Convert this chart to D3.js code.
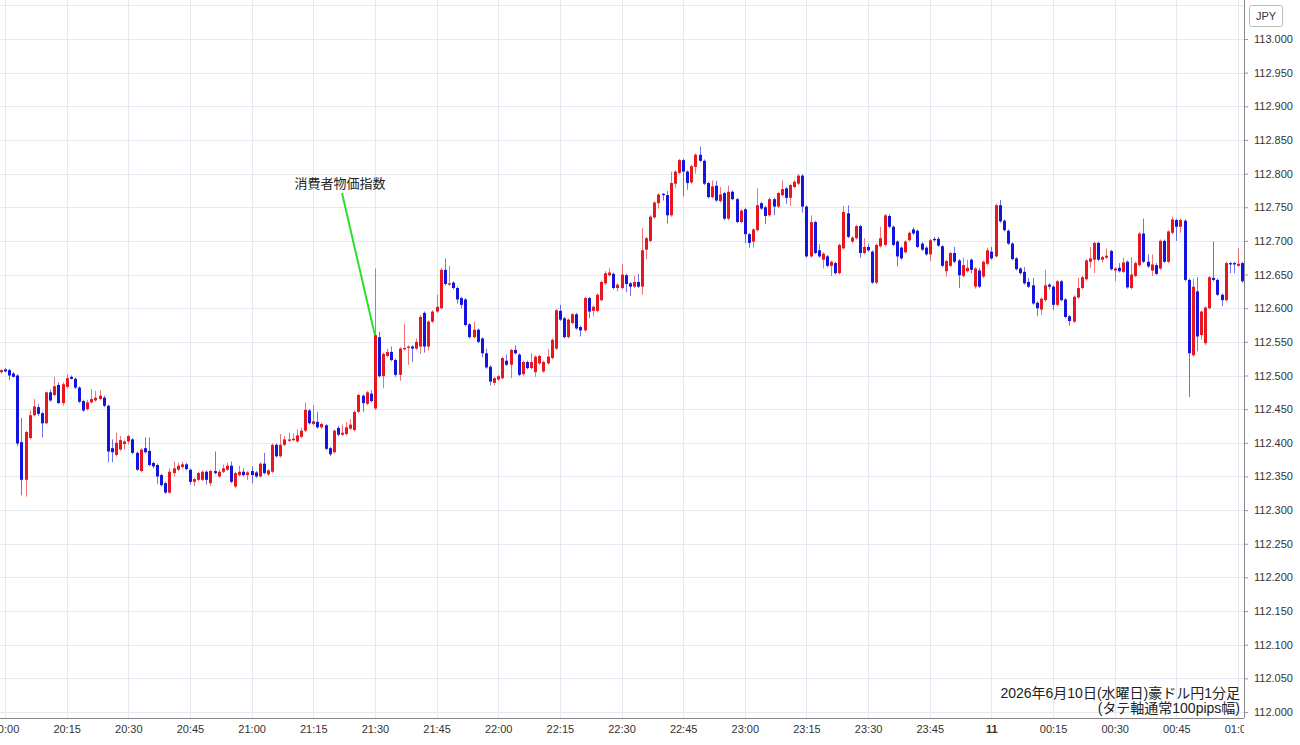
<!DOCTYPE html>
<html>
<head>
<meta charset="utf-8">
<script src="https://d3js.org/d3.v7.min.js"></script>
<style>
  html, body { margin: 0; padding: 0; background: #fff; }
  body { width: 1300px; height: 745px; overflow: hidden; font-family: "Liberation Sans", "Noto Sans CJK JP", sans-serif; }
  .grid line { stroke: #e3eaf2; stroke-width: 1; }
  .tick text { fill: #333; }
</style>
</head>
<body>
<div id="chart"></div>
<script>
// 1-minute AUD/JPY candles, first candle = 19:59 (minute -1 from 20:00)
var firstMinute = -1;

var opens = [
  112.505,112.509,112.508,112.503,112.500,112.401,112.345,112.407,112.441,112.453,112.444,112.429,112.475,112.471,112.486,112.459,112.483,112.498,112.495,112.482,
  112.462,112.450,112.460,112.463,112.465,112.467,112.455,112.392,112.382,112.390,112.398,112.402,112.405,112.385,112.358,112.392,112.388,112.370,112.367,112.352,
  112.340,112.326,112.355,112.360,112.364,112.368,112.360,112.342,112.345,112.345,112.357,112.340,112.358,112.350,112.357,112.360,112.366,112.335,112.352,112.357,
  112.352,112.358,112.356,112.350,112.369,112.353,112.357,112.397,112.380,112.397,112.403,112.404,112.402,112.409,112.418,112.448,112.428,112.431,112.423,112.426,
  112.392,112.386,112.422,112.412,112.413,112.421,112.419,112.446,112.470,112.458,112.473,112.451,112.557,112.499,112.529,112.535,112.523,112.501,112.539,112.541,
  112.543,112.540,112.543,112.593,112.543,112.580,112.595,112.600,112.657,112.635,112.638,112.630,112.615,112.613,112.576,112.557,112.568,112.555,112.533,112.513,
  112.489,112.494,112.496,112.522,112.516,112.538,112.531,112.502,112.520,112.511,112.505,112.518,112.506,112.518,112.526,112.540,112.596,112.585,112.557,112.578,
  112.591,112.572,112.567,112.615,112.596,112.596,112.612,112.637,112.649,112.651,112.630,112.630,112.649,112.637,112.632,112.639,112.632,112.687,112.700,112.735,
  112.756,112.770,112.768,112.738,112.785,112.801,112.820,112.803,112.787,112.810,112.828,112.819,112.786,112.765,112.782,112.759,112.771,112.733,112.773,112.762,
  112.728,112.747,112.710,112.699,112.716,112.756,112.750,112.738,112.762,112.751,112.768,112.778,112.764,112.780,112.785,112.797,112.751,112.677,112.728,112.686,
  112.672,112.677,112.663,112.667,112.652,112.689,112.741,112.699,112.704,112.722,112.682,112.691,112.684,112.638,112.692,112.694,112.737,112.721,112.699,112.690,
  112.683,112.701,112.717,112.715,112.696,112.690,112.680,112.703,112.703,112.692,112.655,112.663,112.682,112.671,112.648,112.655,112.672,112.632,112.656,112.647,
  112.666,112.684,112.677,112.753,112.730,112.715,112.696,112.674,112.659,112.654,112.639,112.634,112.608,112.598,112.612,112.635,112.632,112.605,112.640,112.613,
  112.588,112.580,112.616,112.630,112.643,112.669,112.672,112.697,112.672,112.675,112.685,112.656,112.660,112.654,112.669,112.630,112.648,112.664,112.711,112.669,
  112.656,112.664,112.659,112.700,112.669,112.712,112.731,112.721,112.730,112.642,112.530,112.625,112.560,112.548,112.600,112.645,112.642,112.620,112.612,112.667,
  112.667,112.663,112.667
];
var highs = [
  112.509,112.511,112.510,112.505,112.502,112.437,112.418,112.448,112.465,112.458,112.446,112.476,112.479,112.498,112.490,112.490,112.502,112.500,112.497,112.484,
  112.464,112.464,112.480,112.477,112.478,112.470,112.457,112.405,112.415,112.410,112.405,112.412,112.407,112.387,112.392,112.408,112.408,112.372,112.369,112.354,
  112.342,112.362,112.372,112.370,112.372,112.370,112.362,112.348,112.357,112.359,112.359,112.360,112.387,112.360,112.368,112.370,112.372,112.357,112.366,112.362,
  112.358,112.365,112.358,112.371,112.385,112.361,112.399,112.399,112.413,112.410,112.415,112.414,112.420,112.422,112.460,112.450,112.456,112.446,112.430,112.428,
  112.394,112.420,112.425,112.427,112.431,112.435,112.448,112.473,112.472,112.477,112.478,112.659,112.565,112.534,112.540,112.543,112.525,112.542,112.577,112.545,
  112.545,112.555,112.590,112.595,112.582,112.597,112.620,112.660,112.674,112.663,112.640,112.632,112.617,112.615,112.578,112.580,112.570,112.557,112.540,112.515,
  112.498,112.501,112.528,112.531,112.540,112.545,112.533,112.522,112.522,112.533,112.530,112.531,112.522,112.539,112.555,112.599,112.605,112.587,112.585,112.593,
  112.593,112.574,112.617,112.617,112.604,112.622,112.641,112.655,112.660,112.653,112.637,112.666,112.651,112.639,112.648,112.651,112.719,112.706,112.738,112.759,
  112.771,112.771,112.774,112.803,112.805,112.822,112.822,112.805,112.813,112.830,112.840,112.821,112.788,112.790,112.789,112.780,112.773,112.782,112.775,112.764,
  112.747,112.749,112.712,112.719,112.778,112.758,112.752,112.764,112.764,112.773,112.790,112.780,112.785,112.790,112.799,112.799,112.753,112.738,112.730,112.695,
  112.683,112.679,112.671,112.669,112.696,112.752,112.753,112.707,112.724,112.724,112.704,112.696,112.686,112.696,112.721,112.740,112.740,112.723,112.701,112.692,
  112.701,112.714,112.720,112.717,112.698,112.692,112.703,112.706,112.706,112.694,112.672,112.684,112.691,112.673,112.675,112.672,112.674,112.661,112.660,112.671,
  112.690,112.691,112.755,112.761,112.732,112.717,112.698,112.676,112.661,112.661,112.645,112.645,112.610,112.616,112.657,112.637,112.634,112.642,112.642,112.615,
  112.590,112.619,112.645,112.648,112.673,112.691,112.699,112.699,112.678,112.689,112.687,112.661,112.667,112.675,112.671,112.676,112.669,112.713,112.733,112.680,
  112.680,112.667,112.702,112.702,112.716,112.736,112.733,112.733,112.732,112.644,112.644,112.646,112.597,112.603,112.648,112.699,112.644,112.622,112.669,112.669,
  112.669,112.689,112.669
];
var lows = [
  112.503,112.505,112.493,112.497,112.395,112.322,112.320,112.405,112.439,112.440,112.408,112.428,112.461,112.469,112.458,112.455,112.481,112.494,112.480,112.459,
  112.446,112.448,112.458,112.461,112.463,112.453,112.371,112.371,112.380,112.388,112.390,112.398,112.383,112.358,112.356,112.384,112.365,112.362,112.339,112.335,
  112.324,112.324,112.350,112.358,112.362,112.359,112.338,112.336,112.343,112.343,112.338,112.336,112.353,112.348,112.355,112.358,112.340,112.333,112.350,112.350,
  112.345,112.340,112.348,112.348,112.353,112.351,112.355,112.378,112.378,112.395,112.401,112.402,112.400,112.407,112.416,112.427,112.426,112.421,112.421,112.389,
  112.380,112.384,112.410,112.410,112.411,112.419,112.417,112.444,112.446,112.456,112.460,112.449,112.497,112.481,112.527,112.521,112.498,112.492,112.537,112.516,
  112.520,112.538,112.532,112.534,112.537,112.578,112.593,112.598,112.634,112.633,112.628,112.607,112.600,112.573,112.555,112.555,112.548,112.527,112.510,112.485,
  112.486,112.492,112.494,112.514,112.496,112.531,112.499,112.500,112.509,112.509,112.498,112.516,112.504,112.516,112.524,112.538,112.581,112.555,112.555,112.576,
  112.568,112.558,112.565,112.585,112.588,112.594,112.610,112.635,112.647,112.628,112.625,112.628,112.624,112.618,112.630,112.630,112.620,112.673,112.698,112.733,
  112.748,112.760,112.726,112.736,112.779,112.799,112.766,112.776,112.785,112.800,112.817,112.783,112.763,112.763,112.758,112.757,112.731,112.731,112.760,112.726,
  112.726,112.697,112.690,112.690,112.714,112.746,112.725,112.736,112.738,112.749,112.766,112.755,112.752,112.778,112.783,112.742,112.675,112.675,112.680,112.675,
  112.659,112.661,112.648,112.650,112.650,112.687,112.704,112.696,112.702,112.675,112.680,112.684,112.636,112.636,112.690,112.692,112.719,112.692,112.662,112.672,
  112.681,112.699,112.709,112.689,112.685,112.678,112.670,112.699,112.691,112.661,112.647,112.661,112.667,112.630,112.646,112.653,112.652,112.629,112.630,112.645,
  112.664,112.672,112.675,112.727,112.714,112.694,112.671,112.656,112.650,112.635,112.630,112.605,112.588,112.590,112.610,112.628,112.597,112.603,112.610,112.585,
  112.574,112.578,112.614,112.628,112.641,112.660,112.652,112.670,112.668,112.673,112.656,112.640,112.653,112.652,112.629,112.628,112.646,112.662,112.667,112.660,
  112.648,112.649,112.657,112.667,112.667,112.710,112.700,112.712,112.640,112.468,112.528,112.536,112.553,112.545,112.598,112.640,112.618,112.603,112.610,112.652,
  112.652,112.661,112.638
];
var closes = [
  112.508,112.506,112.500,112.498,112.399,112.345,112.416,112.441,112.454,112.443,112.429,112.475,112.463,112.484,112.459,112.487,112.496,112.495,112.482,112.461,
  112.448,112.460,112.465,112.467,112.470,112.455,112.387,112.386,112.400,112.404,112.402,112.410,112.385,112.360,112.390,112.386,112.367,112.365,112.350,112.337,
  112.326,112.357,112.362,112.366,112.368,112.361,112.342,112.346,112.355,112.357,112.345,112.358,112.355,112.357,112.362,112.366,112.342,112.355,112.357,112.352,
  112.356,112.352,112.350,112.369,112.355,112.359,112.397,112.380,112.397,112.405,112.405,112.406,112.411,112.418,112.449,112.429,112.432,112.423,112.428,112.391,
  112.383,112.418,112.412,112.415,112.423,112.427,112.446,112.471,112.459,112.475,112.462,112.560,112.499,112.532,112.535,112.523,112.501,112.540,112.541,112.543,
  112.540,112.550,112.587,112.543,112.580,112.595,112.602,112.657,112.636,112.637,112.630,112.613,112.605,112.575,112.557,112.568,112.550,112.533,112.512,112.491,
  112.496,112.499,112.526,112.516,112.538,112.533,112.501,112.520,112.511,112.520,112.528,112.529,112.520,112.528,112.553,112.597,112.583,112.557,112.583,112.591,
  112.570,112.567,112.615,112.595,112.602,112.620,112.639,112.652,112.653,112.630,112.635,112.650,112.636,112.632,112.639,112.632,112.686,112.704,112.736,112.757,
  112.769,112.768,112.738,112.786,112.803,112.820,112.803,112.786,112.811,112.828,112.819,112.785,112.765,112.781,112.760,112.769,112.733,112.773,112.762,112.728,
  112.745,112.710,112.697,112.717,112.753,112.748,112.737,112.762,112.751,112.771,112.777,112.764,112.783,112.788,112.797,112.751,112.677,112.728,112.682,112.677,
  112.681,112.663,112.669,112.652,112.694,112.743,112.706,112.705,112.722,112.682,112.691,112.686,112.638,112.694,112.704,112.738,112.721,112.694,112.677,112.674,
  112.699,112.712,112.711,112.691,112.687,112.680,112.701,112.701,112.693,112.663,112.670,112.682,112.669,112.649,112.664,112.660,112.657,112.659,112.632,112.669,
  112.686,112.674,112.753,112.729,112.716,112.696,112.673,112.658,112.652,112.637,112.632,112.607,112.600,112.614,112.634,112.632,112.605,112.640,112.612,112.587,
  112.581,112.617,112.630,112.646,112.671,112.674,112.697,112.672,112.676,112.678,112.658,112.659,112.655,112.668,112.631,112.650,112.667,112.711,112.669,112.662,
  112.665,112.651,112.700,112.669,112.714,112.732,112.721,112.731,112.642,112.533,112.632,112.558,112.595,112.601,112.646,112.642,112.620,112.612,112.667,112.665,
  112.665,112.666,112.640
];

// x axis: minutes after 20:00, a label every 15 minutes
var tickMinutes = [0,15,30,45,60,75,90,105,120,135,150,165,180,195,210,225,240,255,270,285,300];
var tickLabels = ["20:00","20:15","20:30","20:45","21:00","21:15","21:30","21:45","22:00","22:15","22:30",
                  "22:45","23:00","23:15","23:30","23:45","11","00:15","00:30","00:45","01:00"];

var annotation = { minute: 90, price: 112.560, text: "消費者物価指数" };
var titleLines = ["2026年6月10日(水曜日)豪ドル円1分足", "(タテ軸通常100pips幅)"];

var candles = opens.map(function(o, i){
  return { m: firstMinute + i, o: o, h: highs[i], l: lows[i], c: closes[i] };
});

var W = 1300, H = 745;
var plotRight = 1244, plotBottom = 718;

var svg = d3.select("#chart").append("svg")
  .attr("width", W).attr("height", H)
  .style("font-family", "'Liberation Sans', 'Noto Sans CJK JP', sans-serif");

var x = d3.scaleLinear().domain([0, 300]).range([5, 1238]);
var y = d3.scaleLinear().domain([112, 113]).range([712, 39]);

var defs = svg.append("defs");
defs.append("clipPath").attr("id", "plotclip")
  .append("rect").attr("x", 0).attr("y", 0).attr("width", plotRight).attr("height", plotBottom);
defs.append("clipPath").attr("id", "xclip")
  .append("rect").attr("x", 0).attr("y", 0).attr("width", plotRight).attr("height", 30);

// grid
var grid = svg.append("g").attr("class", "grid");
grid.selectAll(".hg").data(d3.range(0, 22).map(function(i){ return 112 + i * 0.05; }))
  .enter().append("line")
  .attr("x1", 0).attr("x2", plotRight)
  .attr("y1", function(d){ return Math.round(y(d)) + 0.5; })
  .attr("y2", function(d){ return Math.round(y(d)) + 0.5; });
grid.selectAll(".vg").data(tickMinutes)
  .enter().append("line")
  .attr("y1", 0).attr("y2", plotBottom)
  .attr("x1", function(d){ return Math.round(x(d)) + 0.5; })
  .attr("x2", function(d){ return Math.round(x(d)) + 0.5; });

// candles
var up = "#e8161e", down = "#1414e0";
var cg = svg.append("g").attr("clip-path", "url(#plotclip)");
var cs = cg.selectAll(".candle").data(candles).enter().append("g");
cs.append("line")
  .attr("x1", function(d){ return Math.round(x(d.m)) + 0.5; })
  .attr("x2", function(d){ return Math.round(x(d.m)) + 0.5; })
  .attr("y1", function(d){ return y(d.h); })
  .attr("y2", function(d){ return y(d.l); })
  .attr("stroke", function(d){ return d.c >= d.o ? up : down; })
  .attr("stroke-opacity", 0.6)
  .attr("stroke-width", 1);
cs.append("rect")
  .attr("x", function(d){ return Math.round(x(d.m)) - 1; })
  .attr("width", 3)
  .attr("y", function(d){ return y(Math.max(d.o, d.c)); })
  .attr("height", function(d){ return Math.max(1, Math.abs(y(d.o) - y(d.c))); })
  .attr("fill", function(d){ return d.c >= d.o ? up : down; });

// right price axis
var yAxis = d3.axisRight(y)
  .tickValues(d3.range(0, 21).map(function(i){ return 112 + i * 0.05; }))
  .tickFormat(d3.format(".3f"))
  .tickSize(4).tickPadding(6);
var ya = svg.append("g").attr("transform", "translate(" + plotRight + ",0)").call(yAxis);
ya.select(".domain").remove();
ya.selectAll(".tick line").attr("stroke", "#999");
ya.selectAll(".tick text").attr("font-size", 11).attr("fill", "#333");
svg.append("line").attr("x1", plotRight + 0.5).attr("x2", plotRight + 0.5)
  .attr("y1", 0).attr("y2", plotBottom).attr("stroke", "#888");

// currency badge
svg.append("rect").attr("x", 1249.5).attr("y", 5.5).attr("width", 33).attr("height", 21)
  .attr("rx", 2).attr("fill", "#fff").attr("stroke", "#bbb");
svg.append("text").attr("x", 1266).attr("y", 20).attr("text-anchor", "middle")
  .attr("font-size", 11).attr("fill", "#333").text("JPY");

// bottom time axis
svg.append("line").attr("x1", 0).attr("x2", plotRight).attr("y1", plotBottom + 0.5).attr("y2", plotBottom + 0.5)
  .attr("stroke", "#888");
var xAxis = d3.axisBottom(x).tickValues(tickMinutes)
  .tickFormat(function(d, i){ return tickLabels[i]; })
  .tickSize(0).tickPadding(7);
var xa = svg.append("g").attr("transform", "translate(0," + plotBottom + ")")
  .attr("clip-path", "url(#xclip)").call(xAxis);
xa.select(".domain").remove();
xa.selectAll(".tick text").attr("font-size", 11).attr("fill", "#333")
  .attr("font-weight", function(d, i){ return tickLabels[i] === "11" ? "bold" : "normal"; });

// annotation
svg.append("line")
  .attr("x1", 342).attr("y1", 193)
  .attr("x2", x(annotation.minute)).attr("y2", y(annotation.price))
  .attr("stroke", "#2be02b").attr("stroke-width", 2);
svg.append("text").attr("x", 340).attr("y", 188).attr("text-anchor", "middle")
  .attr("font-size", 13).attr("fill", "#222").text(annotation.text);

// title block (bottom right)
svg.selectAll(".title").data(titleLines).enter().append("text")
  .attr("x", 1240).attr("y", function(d, i){ return 698 + i * 15; })
  .attr("text-anchor", "end").attr("font-size", 14).attr("fill", "#222")
  .text(function(d){ return d; });
</script>
</body>
</html>
